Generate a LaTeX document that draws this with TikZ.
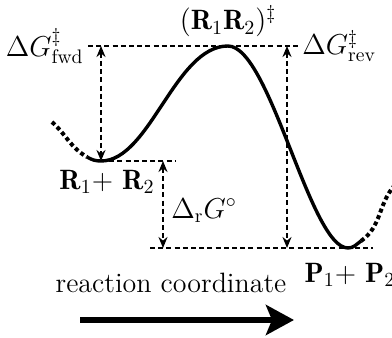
\documentclass[tikz,border=0pt]{standalone}
\usepackage{fontspec}
\usetikzlibrary{arrows.meta,calc}
\tikzset{
  guide/.style={line width=0.9pt,dash pattern=on 2.5pt off 1.6pt},
  gap/.style={guide,{Stealth[length=5.5pt,width=4.5pt]}-{Stealth[length=5.5pt,width=4.5pt]}},
  energy/.style={line width=1.7pt},
  energyend/.style={line width=2pt,dash pattern=on 2pt off 1.5pt},
}
\begin{document}
\begin{tikzpicture}[x=0.5pt,y=0.5pt,font=\fontsize{14}{17}\selectfont]
\useasboundingbox (0,0) rectangle (392,338);
\coordinate (lend) at (52,216);
\coordinate (lcut) at (87,181);
\coordinate (rmin) at (101,177);
\coordinate (ts) at (228,292);
\coordinate (pmin) at (348,90);
\coordinate (rcut) at (361,97);
\coordinate (rend) at (394,152);
\coordinate (topL) at (88,292);
\coordinate (topR) at (298,292);
\coordinate (rR) at (175,177);
\coordinate (pL) at (150,90);
\coordinate (pR) at (373,90);
\coordinate (fwdtop) at (101,292);
\coordinate (dr1) at (163,177);
\coordinate (dr2) at (163,90);
\coordinate (rv1) at (287,292);
\coordinate (rv2) at (287,90);
\coordinate (ax0) at (80,18);
\coordinate (ax1) at (294,18);
\draw[guide] (topL) -- (topR);
\draw[guide] (rmin) -- (rR);
\draw[guide] (pL) -- (pR);
\draw[gap] (fwdtop) -- (rmin);
\draw[gap] (dr1) -- (dr2);
\draw[gap] (rv1) -- (rv2);
\draw[energyend] (lend) to[out=-42,in=150] (lcut);
\draw[energyend] (rcut) to[out=35,in=230] (rend);
\draw[energy] (lcut) to[out=-30,in=180] (rmin) .. controls (150,177) and (175,292) .. (ts)
  .. controls (270,292) and (310,90) .. (pmin) to[out=0,in=215] (rcut);
\node[anchor=east,inner sep=2pt] (fwd) at (topL) {$\Delta G^{\ddagger}_{\mathrm{fwd}}$};
\node[anchor=west,inner sep=2pt] (rev) at (topR) {$\Delta G^{\ddagger}_{\mathrm{rev}}$};
\node[above=1pt] (tslab) at (ts) {$(\mathbf{R}_1\mathbf{R}_2)^{\ddagger}$};
\node[below=1pt,xshift=3pt] (react) at (rmin) {$\mathbf{R}_1$+ $\mathbf{R}_2$};
\node[anchor=west,inner sep=2pt,xshift=2pt,yshift=-3pt] (drlab) at ($(dr1)!0.5!(dr2)$) {$\Delta_{\mathrm{r}}G^{\circ}$};
\node[below=4pt,xshift=1pt] (prod) at (pmin) {$\mathbf{P}_1$+ $\mathbf{P}_2$};
\node (rc) at (171,55) {reaction coordinate};
\draw[line width=3pt,-{Stealth[length=14pt,width=15pt,inset=3pt]}] (ax0) -- (ax1);
\end{tikzpicture}
\end{document}
